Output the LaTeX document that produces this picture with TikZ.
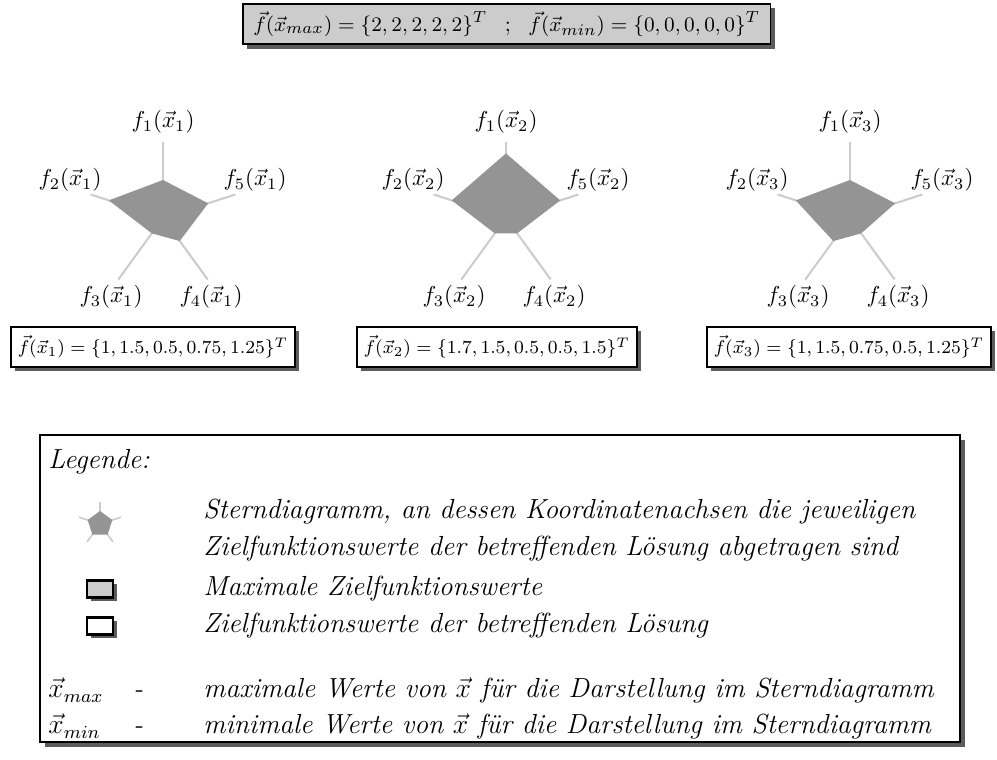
\documentclass[tikz,border=0pt]{standalone}
\usepackage{fontspec}
\usetikzlibrary{shadows,fit}

% one drawing unit
\newlength{\pxunit}\setlength{\pxunit}{0.4348pt}

\definecolor{axisgray}{gray}{0.80}
\definecolor{areagray}{gray}{0.58}
\definecolor{boxgray}{gray}{0.80}
\definecolor{shadowgray}{gray}{0.36}

\tikzset{
  axisline/.style={draw=axisgray, line width=0.9pt},
  area/.style={fill=areagray},
  flabel/.style={inner sep=0pt},
  shadowed/.style={drop shadow={shadow xshift=1.8pt, shadow yshift=-1.8pt,
      fill=shadowgray, opacity=1}},
  valuebox/.style={draw=black, line width=0.8pt, fill=white, inner xsep=3pt,
      minimum height=17.5pt, font=\footnotesize, shadowed},
  maxbox/.style={valuebox, fill=boxgray, inner xsep=4.5pt, minimum height=14pt,
      font=\fontsize{9.5}{11}\selectfont},
  iconbox/.style={draw=black, line width=1.1pt, minimum width=26\pxunit,
      minimum height=17\pxunit, inner sep=0pt,
      drop shadow={shadow xshift=1.6pt, shadow yshift=-1.6pt, fill=shadowgray, opacity=1}},
  legendframe/.style={draw=black, line width=0.8pt, fill=white, inner sep=0pt,
      drop shadow={shadow xshift=2.2pt, shadow yshift=-2.2pt, fill=shadowgray, opacity=1}},
  legtext/.style={inner sep=0pt, font=\large\itshape},
}

% star plot: #1 index, #2 centre x, #3..#7 values f1..f5 (full scale 2 = 76 units)
\newcommand\radar[7]{%
  \begin{scope}[shift={(#2,218)}]
    \coordinate (c#1) at (0,0);
    \coordinate (a#1-1) at (-90:76);
    \coordinate (a#1-2) at (-162:76);
    \coordinate (a#1-3) at (126:76);
    \coordinate (a#1-4) at (54:76);
    \coordinate (a#1-5) at (-18:76);
    \foreach \k in {1,...,5} \draw[axisline] (c#1) -- (a#1-\k);
    \fill[area] (-90:#3*38) -- (-162:#4*38) -- (126:#5*38)
       -- (54:#6*38) -- (-18:#7*38) -- cycle;
    \node[flabel] (l#1-1) at (0,-96)   {$f_1(\vec{x}_#1)$};
    \node[flabel] (l#1-2) at (-93,-38) {$f_2(\vec{x}_#1)$};
    \node[flabel] (l#1-3) at (-52,79)  {$f_3(\vec{x}_#1)$};
    \node[flabel] (l#1-4) at (48,79)   {$f_4(\vec{x}_#1)$};
    \node[flabel] (l#1-5) at (92,-38)  {$f_5(\vec{x}_#1)$};
  \end{scope}}

\begin{document}
\begin{tikzpicture}[x=\pxunit, y=-\pxunit]
  \useasboundingbox (0,0) rectangle (997,760);

  % extreme values
  \node[maxbox, anchor=west] (extreme) at (242,24)
    {$\vec{f}(\vec{x}_{max}) = \{2,2,2,2,2\}^T$\hspace{0.8em};\hspace{0.8em}$\vec{f}(\vec{x}_{min}) = \{0,0,0,0,0\}^T$};

  % the three solutions
  \radar{1}{163}{1}{1.5}{0.5}{0.75}{1.25}
  \radar{2}{506}{1.7}{1.5}{0.5}{0.5}{1.5}
  \radar{3}{850}{1}{1.5}{0.75}{0.5}{1.25}

  \node[valuebox, anchor=west] (v1) at (10,347)
    {$\vec{f}(\vec{x}_1) = \{1, 1.5, 0.5, 0.75, 1.25\}^T$};
  \node[valuebox, anchor=west] (v2) at (356,347)
    {$\vec{f}(\vec{x}_2) = \{1.7, 1.5, 0.5, 0.5, 1.5\}^T$};
  \node[valuebox, anchor=west] (v3) at (706,347)
    {$\vec{f}(\vec{x}_3) = \{1, 1.5, 0.75, 0.5, 1.25\}^T$};

  % legend
  \coordinate (lgA) at (40,435);
  \coordinate (lgB) at (960,742);
  \node[legendframe, fit=(lgA)(lgB)] (legend) {};

  \node[legtext, anchor=base west] (lg0) at (48,469) {Legende:};

  \begin{scope}[shift={(100,524)}]
    \coordinate (sc) at (0,0);
    \foreach \a [count=\k] in {-90,-162,126,54,-18}
      \coordinate (se\k) at (\a:22);
    \foreach \k in {1,...,5} \draw[axisline, line width=0.7pt] (sc) -- (se\k);
    \fill[area] (-90:13) -- (-162:13) -- (126:13) -- (54:13) -- (-18:13) -- cycle;
  \end{scope}
  \node[legtext, anchor=base west] (lg1) at (203,519)
    {Sterndiagramm, an dessen Koordinatenachsen die jeweiligen};
  \node[legtext, anchor=base west] (lg2) at (203,556)
    {Zielfunktionswerte der betreffenden Lösung abgetragen sind};

  \node[iconbox, fill=boxgray] (ic1) at (100,589) {};
  \node[legtext, anchor=base west] (lg3) at (203,596) {Maximale Zielfunktionswerte};

  \node[iconbox, fill=white] (ic2) at (100,626) {};
  \node[legtext, anchor=base west] (lg4) at (203,633)
    {Zielfunktionswerte der betreffenden Lösung};

  \node[legtext, anchor=base west] (sx1) at (48,698) {$\vec{x}_{max}$};
  \node[legtext, anchor=base west] (dx1) at (133,698) {-};
  \node[legtext, anchor=base west] (lg5) at (203,698)
    {maximale Werte von $\vec{x}$ für die Darstellung im Sterndiagramm};

  \node[legtext, anchor=base west] (sx2) at (48,734) {$\vec{x}_{min}$};
  \node[legtext, anchor=base west] (dx2) at (133,734) {-};
  \node[legtext, anchor=base west] (lg6) at (203,734)
    {minimale Werte von $\vec{x}$ für die Darstellung im Sterndiagramm};
\end{tikzpicture}
\end{document}
